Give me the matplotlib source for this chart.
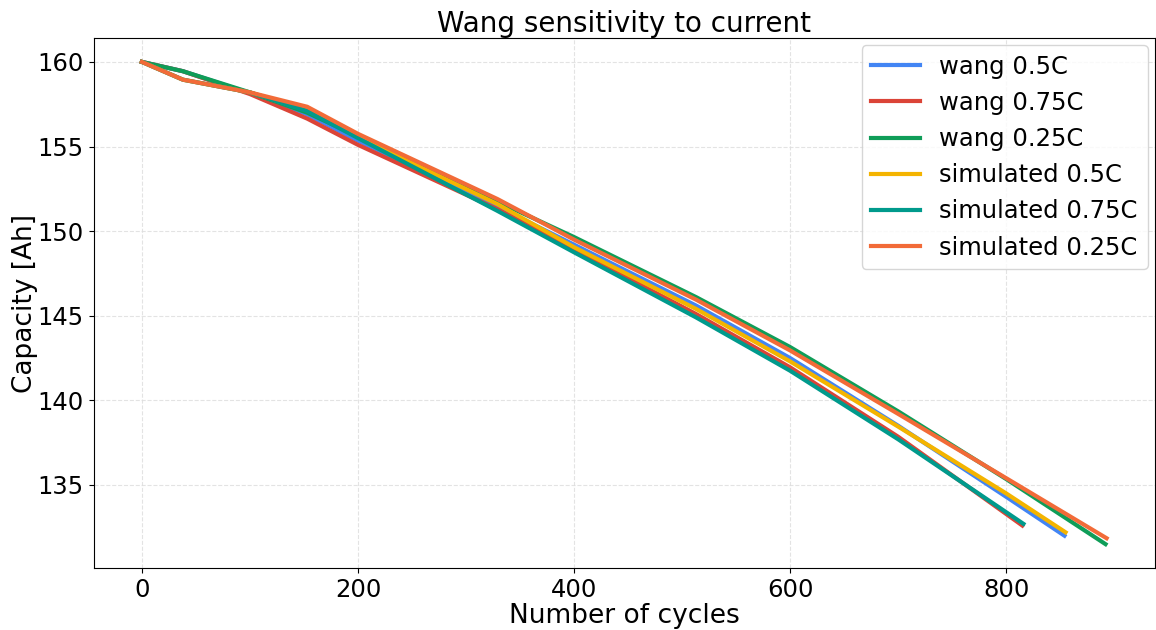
import numpy as np
import matplotlib.pyplot as plt

# values
x_wang05 = [0, 38, 100, 153, 200, 329, 400, 513, 600, 700, 800, 854]
y_wang05 = [160, 159.45, 158.15, 156.9, 155.35, 151.45, 149.2, 145.6, 142.5, 138.5, 134.3, 132.0]

x_wang075 = [0, 38, 100, 153, 200, 329, 400, 513, 600, 700, 815]
y_wang075 = [160, 159.45, 158.1, 156.65, 155.1, 151.3, 148.9, 145.1, 141.95, 137.85, 132.6]

x_wang025 = [0, 38, 100, 153, 200, 329, 400, 513, 600, 700, 800, 892]
y_wang025 = [160, 159.45, 158.2, 157.0, 155.6, 151.75, 149.65, 146.1, 143.15, 139.35, 135.35, 131.5]

x_sim05 = [0, 38, 100, 153, 200, 329, 400, 513, 600, 700, 800, 855]
y_sim05 = [160, 158.95, 158.2, 157.15, 155.55, 151.6, 149.05, 145.4, 142.3, 138.45, 134.5, 132.2]

x_sim075 = [0, 38, 100, 153, 200, 329, 400, 513, 600, 700, 816]
y_sim075 = [160, 158.95, 158.2, 157.1, 155.5, 151.2, 148.75, 144.9, 141.75, 137.7, 132.7]

x_sim025 = [0, 38, 100, 153, 200, 329, 400, 513, 600, 700, 800, 893]
y_sim025 = [160, 158.95, 158.2, 157.35, 155.75, 151.9, 149.5, 145.95, 142.95, 139.2, 135.4, 131.85]

fig, ax = plt.subplots(figsize=(11.56, 6.3), dpi=100)
lw = 3
ax.plot(x_wang05, y_wang05, color='#4285F4', lw=lw, label='wang 0.5C')
ax.plot(x_wang075, y_wang075, color='#DB4437', lw=lw, label='wang 0.75C')
ax.plot(x_wang025, y_wang025, color='#0F9D58', lw=lw, label='wang 0.25C')
ax.plot(x_sim05, y_sim05, color='#F4B400', lw=lw, label='simulated 0.5C')
ax.plot(x_sim075, y_sim075, color='#009A8C', lw=lw, label='simulated 0.75C')
ax.plot(x_sim025, y_sim025, color='#F26B38', lw=lw, label='simulated 0.25C')

ax.set_title('Wang sensitivity to current', fontsize=20, pad=4)
ax.set_xlabel('Number of cycles', fontsize=19, labelpad=1)
ax.set_ylabel('Capacity [Ah]', fontsize=19, labelpad=0)
ax.tick_params(labelsize=17.5)
ax.grid(True, linestyle='--', color='#dddddd', alpha=0.8)
ax.legend(loc='upper right', fontsize=17.5, borderaxespad=0.3)
fig.subplots_adjust(left=0.081, right=0.999, top=0.94, bottom=0.098)
fig.savefig('out.png', dpi=100)
